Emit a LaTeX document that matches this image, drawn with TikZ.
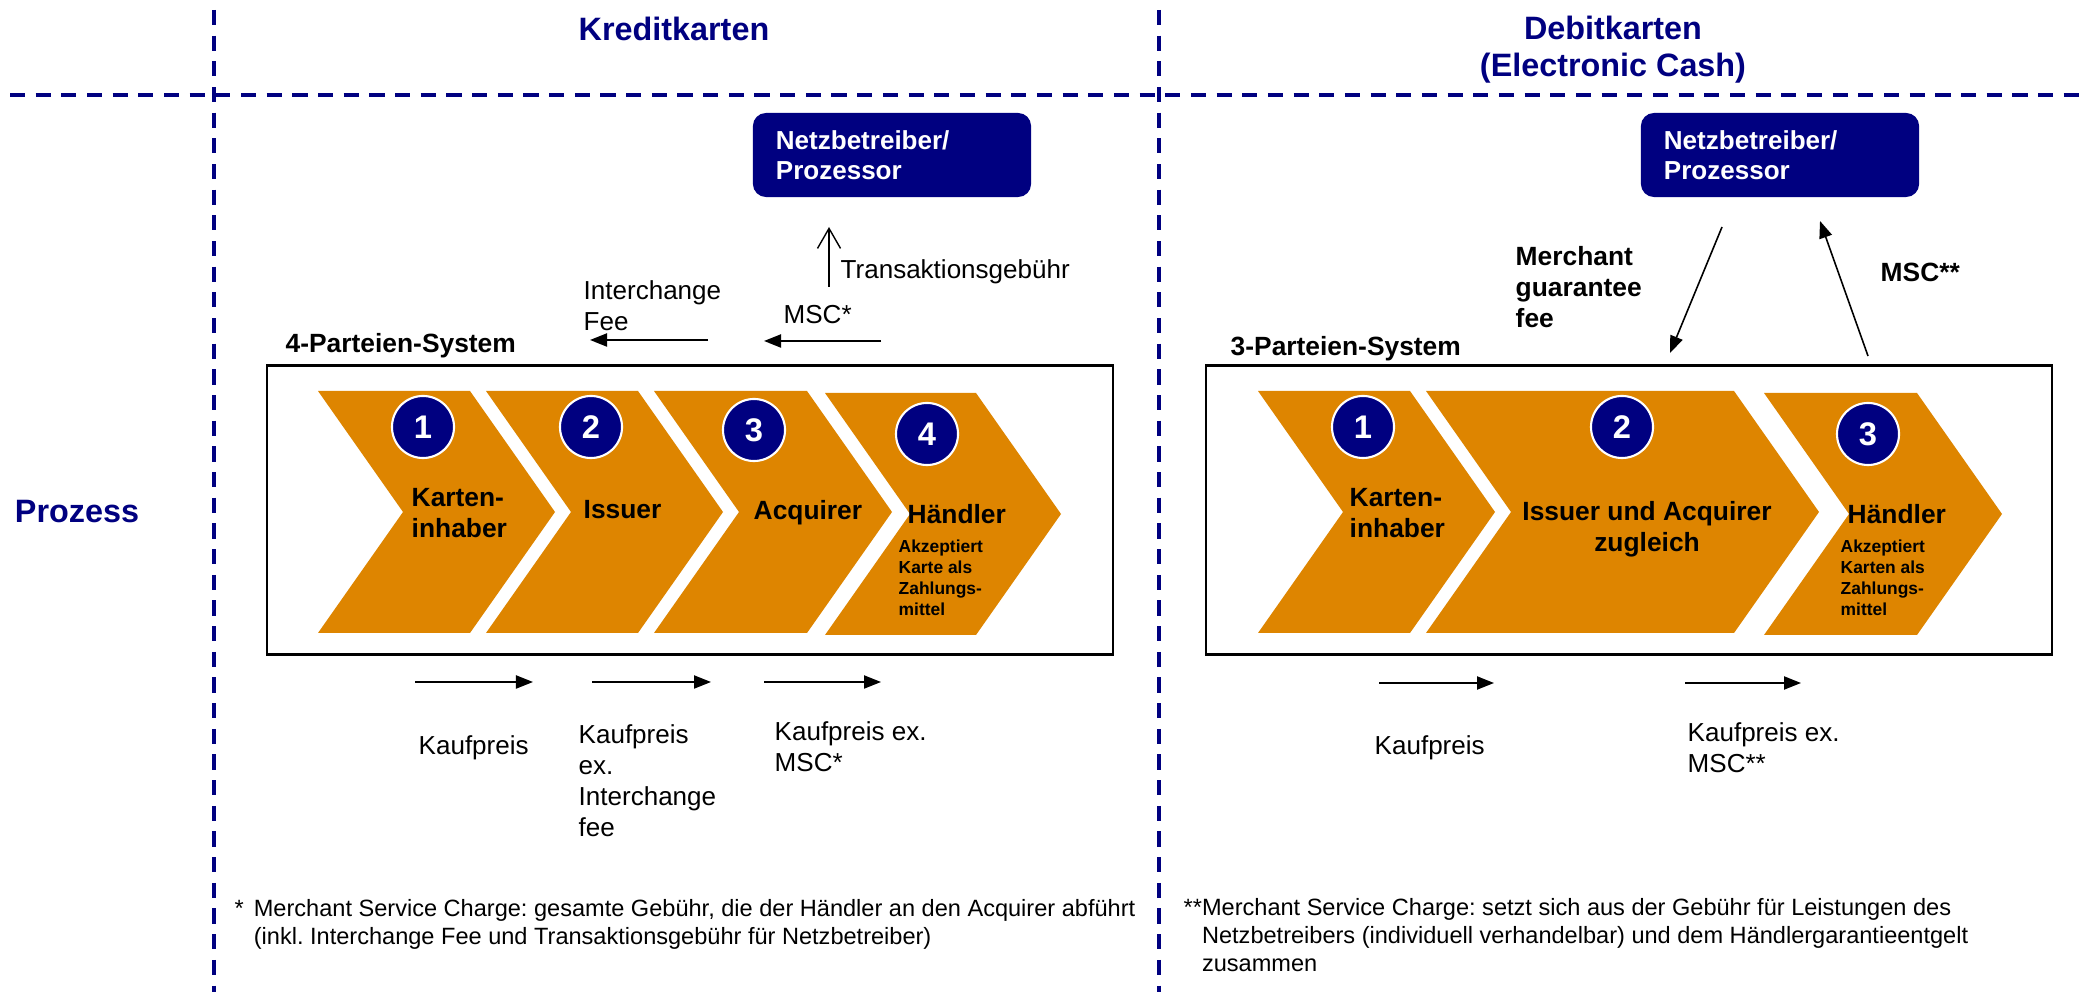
\documentclass[tikz,border=0pt]{standalone}
\usepackage{fontspec}
\setmainfont{Liberation Sans}
\usetikzlibrary{arrows.meta}
\definecolor{navy}{RGB}{0,0,128}
\definecolor{chevorange}{RGB}{222,133,0}
\frenchspacing

\begin{document}
\begin{tikzpicture}[x=0.01cm, y=-0.01cm,
        >={Triangle[length=0.17cm,width=0.13cm]},
        sepline/.style={navy, line width=1pt, dash pattern=on 4.3pt off 3pt},
        headline/.style={inner sep=0pt, align=center, text=navy, font=\fontsize{9.2}{10.5}\selectfont\bfseries},
        netz/.style={rectangle, rounded corners=0.13cm, fill=navy, text=white, minimum width=2.78cm, minimum height=0.84cm, text width=2.32cm, inner xsep=0.23cm, inner ysep=0pt, align=left, font=\fontsize{7.4}{8.5}\selectfont\bfseries},
        sysbox/.style={rectangle, draw=black, line width=0.65pt, minimum width=8.46cm, minimum height=2.89cm, inner sep=0pt},
        chevron/.style={fill=chevorange},
        numcircle/.style={circle, fill=navy, draw=white, line width=0.6pt, minimum size=0.62cm, inner sep=0pt, text=white, font=\fontsize{9.3}{9.3}\selectfont\bfseries},
        party/.style={anchor=west, inner sep=0pt, align=left, font=\fontsize{7.5}{8.8}\selectfont\bfseries},
        partysub/.style={anchor=west, inner sep=0pt, align=left, font=\fontsize{4.95}{6}\selectfont\bfseries},
        txt/.style={anchor=west, inner sep=0pt, align=left, font=\fontsize{7.4}{8.8}\selectfont},
        note/.style={anchor=west, inner sep=0pt, font=\fontsize{6.7}{8}\selectfont},
        flow/.style={draw, ->, line width=0.6pt},
        fee/.style={draw, -{Straight Barb[length=0.2cm,width=0.23cm]}, line width=0.4pt},
        feeb/.style={draw, ->, line width=0.45pt}
    ]
    \useasboundingbox (0,0) rectangle (2082,992);

    % ==========================================
    % 0. Separators and headings
    % ==========================================
    \draw[sepline] (10,95) -- (2082,95);
    \foreach \sx in {214, 1159} {
        \draw[sepline] (\sx,10) -- (\sx,992);
    }
    \node[headline] (kredit) at (674,29) {Kreditkarten};
    \node[headline] (debit) at (1613,50) {Debitkarten\\(Electronic Cash)};
    \node[headline] (prozess) at (77,512) {Prozess};

    % ==========================================
    % 1. Kreditkarten (4-Parteien-System)
    % ==========================================
    \node[netz] (knetz) at (892,155) {Netzbetreiber/\\Prozessor};
    \node[sysbox] (kbox) at (690,510) {};
    \node[party] (k4p) at (285,346) {4-Parteien-System};

    % Pfeilformen
    \foreach \x/\w/\dy in {318/152/0, 486/152/0, 654/153/0, 825/151/2} {
        \fill[chevron] (\x,391+\dy) -- ++(\w,0) -- ++(85,121) -- ++(-85,121) -- ++(-\w,0) -- ++(85,-121) -- cycle;
    }
    \foreach \n/\cx/\cy in {1/423/427, 2/591/427, 3/754/430, 4/927/434} {
        \node[numcircle] (kc\n) at (\cx,\cy) {\n};
    }
    \node[party] (kkarten) at (411,513) {Karten-\\inhaber};
    \node[party] (kissuer) at (583,510) {Issuer};
    \node[party] (kacq) at (753,513) {Acquirer};
    \node[party] (khaendler) at (907,514) {Händler};
    \node[partysub] (khsub) at (898,578) {Akzeptiert\\Karte als\\Zahlungs-\\mittel};

    % Gebühren oben
    \node[txt] (ktrans) at (840,272) {Transaktionsgebühr};
    \node[txt] (kinter) at (583,306) {Interchange\\Fee};
    \node[txt] (kmsc) at (783,315) {MSC*};
    \coordinate (tg1) at (829,287);
    \coordinate (tg2) at (829,227);
    \coordinate (if1) at (708,340);
    \coordinate (if2) at (590,340);
    \coordinate (ms1) at (881,341);
    \coordinate (ms2) at (764,341);
    \path[fee] (tg1) -- (tg2);
    \path[flow] (if1) -- (if2);
    \path[flow] (ms1) -- (ms2);

    % Zahlungsfluss unten
    \coordinate (kp1a) at (415,682); \coordinate (kp1b) at (533,682);
    \coordinate (kp2a) at (592,682); \coordinate (kp2b) at (711,682);
    \coordinate (kp3a) at (764,682); \coordinate (kp3b) at (881,682);
    \foreach \c in {kp1, kp2, kp3} {
        \path[flow] (\c a) -- (\c b);
    }
    \node[txt] (kkauf1) at (418,748) {Kaufpreis};
    \node[txt] (kkauf2) at (578,781) {Kaufpreis\\ex.\\Interchange\\fee};
    \node[txt] (kkauf3) at (774,747) {Kaufpreis ex.\\MSC*};

    \node[note] (knote) at (234,925) {\begin{tabular}{@{}l@{\hspace{0.1cm}}l@{}}*&Merchant Service Charge: gesamte Gebühr, die der Händler an den Acquirer abführt\\&(inkl. Interchange Fee und Transaktionsgebühr für Netzbetreiber)\end{tabular}};

    % ==========================================
    % 2. Debitkarten (3-Parteien-System)
    % ==========================================
    \node[netz] (dnetz) at (1780,155) {Netzbetreiber/\\Prozessor};
    \node[sysbox] (dbox) at (1629,510) {};
    \node[party] (d3p) at (1230,349) {3-Parteien-System};

    \foreach \x/\w/\dy in {1258/152/0, 1426/308/0, 1764/153/2} {
        \fill[chevron] (\x,391+\dy) -- ++(\w,0) -- ++(85,121) -- ++(-85,121) -- ++(-\w,0) -- ++(85,-121) -- cycle;
    }
    \foreach \n/\cx/\cy in {1/1363/427, 2/1622/427, 3/1868/434} {
        \node[numcircle] (dc\n) at (\cx,\cy) {\n};
    }
    \node[party] (dkarten) at (1349,513) {Karten-\\inhaber};
    \node[party, anchor=center, align=center] (dissacq) at (1647,529) {Issuer und Acquirer\\zugleich};
    \node[party] (dhaendler) at (1847,514) {Händler};
    \node[partysub] (dhsub) at (1840,578) {Akzeptiert\\Karten als\\Zahlungs-\\mittel};

    % Gebühren oben
    \node[party] (dmgf) at (1515,287) {Merchant\\guarantee\\fee};
    \node[party] (dmsc) at (1880,272) {MSC**};
    \coordinate (mg1) at (1722,227);
    \coordinate (mg2) at (1670,353);
    \coordinate (dm1) at (1868,356);
    \coordinate (dm2) at (1820,221);
    \path[feeb] (mg1) -- (mg2);
    \path[feeb] (dm1) -- (dm2);

    % Zahlungsfluss unten
    \coordinate (dp1a) at (1379,683); \coordinate (dp1b) at (1494,683);
    \coordinate (dp2a) at (1685,683); \coordinate (dp2b) at (1801,683);
    \foreach \c in {dp1, dp2} {
        \path[flow] (\c a) -- (\c b);
    }
    \node[txt] (dkauf1) at (1374,748) {Kaufpreis};
    \node[txt] (dkauf2) at (1687,748) {Kaufpreis ex.\\MSC**};

    \node[note] (dnote) at (1183,938) {\begin{tabular}{@{}l@{}l@{}}**&Merchant Service Charge: setzt sich aus der Gebühr für Leistungen des\\&Netzbetreibers (individuell verhandelbar) und dem Händlergarantieentgelt\\&zusammen\end{tabular}};

\end{tikzpicture}
\end{document}
